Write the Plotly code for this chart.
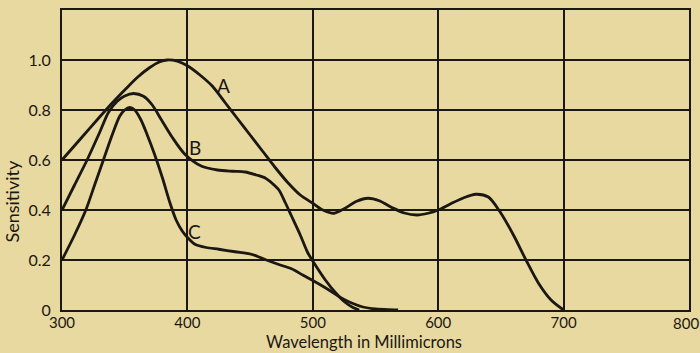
import plotly.graph_objects as go

# Curve A
A_x = [300, 315, 330, 335, 340, 350, 360, 370, 378, 384, 392, 400, 410, 420, 430, 440, 450, 460, 470, 480, 490, 500,
       508, 517, 525, 535, 544, 553, 563, 573, 583, 592, 600, 610, 620, 630, 640, 649, 660, 670, 680, 690, 700]
A_y = [0.60, 0.686, 0.772, 0.80, 0.828, 0.88, 0.93, 0.97, 0.993, 1.0, 0.995, 0.977, 0.94, 0.895, 0.83, 0.765,
       0.70, 0.635, 0.57, 0.51, 0.46, 0.427, 0.40, 0.387, 0.405, 0.435, 0.447, 0.437, 0.41, 0.388, 0.38, 0.387,
       0.40, 0.425, 0.448, 0.463, 0.452, 0.395, 0.30, 0.20, 0.107, 0.04, 0.0]

# Curve B
B_x = [300, 310, 320, 330, 337, 344, 350, 357, 365, 372, 379, 388, 398, 411, 424, 436, 446, 455, 462, 468, 473,
       478, 483, 490, 496, 502, 510, 518, 526, 532, 537]
B_y = [0.40, 0.50, 0.60, 0.71, 0.79, 0.835, 0.856, 0.866, 0.855, 0.82, 0.763, 0.69, 0.623, 0.576, 0.56, 0.555,
       0.552, 0.54, 0.528, 0.505, 0.48, 0.43, 0.376, 0.30, 0.229, 0.18, 0.12, 0.07, 0.03, 0.01, 0.0]

# Curve C
C_x = [300, 310, 319, 326, 333, 340, 346, 350, 354, 358, 363, 368, 374, 380, 386, 391, 396, 401, 406, 415,
       425, 438, 451, 463, 474, 483, 492, 500, 508, 516, 522, 530, 540, 550, 560, 568]
C_y = [0.20, 0.30, 0.40, 0.50, 0.60, 0.70, 0.775, 0.80, 0.81, 0.80, 0.76, 0.70, 0.62, 0.53, 0.43, 0.36,
       0.315, 0.285, 0.263, 0.25, 0.243, 0.233, 0.223, 0.20, 0.18, 0.165, 0.14, 0.118, 0.095, 0.07, 0.05,
       0.03, 0.012, 0.004, 0.001, 0.0]

curve_labels = ["A", "B", "C"]
label_x = [429, 406, 406]
label_y = [0.90, 0.65, 0.313]

x_ticks = [300, 400, 500, 600, 700, 800]
x_tick_text = ["300", "400", "500", "600", "700", "800"]
y_ticks = [0, 0.2, 0.4, 0.6, 0.8, 1.0]
y_tick_text = ["0", "0.2", "0.4", "0.6", "0.8", "1.0"]

BG = "#e8d9a1"
INK = "#1b1712"
FONT = "Lato"

fig = go.Figure()
for xs, ys in [(A_x, A_y), (B_x, B_y), (C_x, C_y)]:
    fig.add_trace(go.Scatter(x=xs, y=ys, mode="lines",
                             line=dict(color=INK, width=2.8, shape="spline", smoothing=0.8),
                             showlegend=False, hoverinfo="skip"))

for t, lx, ly in zip(curve_labels, label_x, label_y):
    fig.add_annotation(x=lx, y=ly, text=t, showarrow=False,
                       font=dict(family=FONT, size=19, color=INK))

# last x tick label drawn as an annotation so it is not clipped at the right edge
fig.add_annotation(x=x_ticks[-1], y=0, text=x_tick_text[-1], showarrow=False, xanchor="center",
                   yanchor="top", xshift=-3, yshift=-3, borderpad=0,
                   font=dict(family=FONT, size=15, color=INK))

fig.add_annotation(xref="paper", yref="paper", x=0.4817, y=-43 / 300, text="Wavelength in Millimicrons",
                   showarrow=False, yanchor="bottom", borderpad=0,
                   font=dict(family=FONT, size=16.5, color=INK))
fig.add_annotation(xref="paper", yref="paper", x=-0.079, y=0.363, text="Sensitivity", textangle=-90,
                   showarrow=False, xanchor="center", yanchor="middle",
                   font=dict(family=FONT, size=18, color=INK))

fig.update_layout(
    width=700, height=353,
    margin=dict(l=62, r=11, t=10, b=43, autoexpand=False),
    paper_bgcolor=BG, plot_bgcolor=BG,
    font=dict(family=FONT, size=15, color=INK),
    xaxis=dict(range=[300, 800], tickvals=x_ticks[:-1], ticktext=x_tick_text[:-1],
               showgrid=True, gridcolor=INK, gridwidth=1.5, automargin=False,
               showline=True, linecolor=INK, linewidth=2, mirror=True, zeroline=False,
               ticks="", ticklabelstandoff=-2, tickfont=dict(family=FONT, size=15, color=INK)),
    yaxis=dict(range=[0, 1.2], tickvals=y_ticks, ticktext=y_tick_text, automargin=False,
               showgrid=True, gridcolor=INK, gridwidth=1.5,
               showline=True, linecolor=INK, linewidth=2, mirror=True, zeroline=False,
               ticks="", ticklabelstandoff=6, tickfont=dict(family=FONT, size=16, color=INK)),
)

fig.write_html("out.html", config={"displayModeBar": False},
               post_script="document.body.style.margin='0';document.body.style.background='#e8d9a1';")
